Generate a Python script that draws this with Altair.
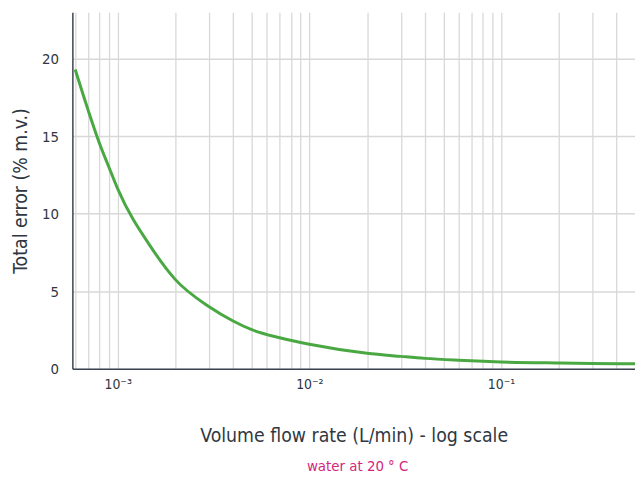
import altair as alt
import pandas as pd

# Data
flow_rate = [0.0006, 0.0007, 0.0008, 0.0009, 0.001, 0.0015, 0.002, 0.003, 0.004,
             0.005, 0.007, 0.01, 0.02, 0.03, 0.04, 0.06, 0.1, 0.2, 0.3, 0.5]
total_error = [19.3, 16.7, 14.6, 13.0, 11.6, 7.8, 5.75, 4.0, 3.08, 2.52, 2.0,
               1.58, 1.0, 0.8, 0.67, 0.55, 0.44, 0.37, 0.34, 0.32]

x_grid_values = [0.0006, 0.0007, 0.0008, 0.0009,
                 0.001, 0.002, 0.003, 0.004, 0.005, 0.006, 0.007, 0.008, 0.009,
                 0.01, 0.02, 0.03, 0.04, 0.05, 0.06, 0.07, 0.08, 0.09,
                 0.1, 0.2, 0.3, 0.4]
y_tick_values = [0, 5, 10, 15, 20]
note_text = ["water at 20 ° C"]

FONT = "DejaVu Sans Condensed, Liberation Sans Narrow, Roboto, sans-serif"
TXT = "#2f3742"

df = pd.DataFrame({"flow": flow_rate, "err": total_error})

x_scale = alt.Scale(type="log", domain=[0.00058, 0.5], nice=False)
y_scale = alt.Scale(domain=[0, 23], nice=False, zero=True)

line = alt.Chart(df).mark_line(color="#4aa843", strokeWidth=3, interpolate="monotone").encode(
    x=alt.X("flow:Q", scale=x_scale,
            axis=alt.Axis(values=x_grid_values, grid=True, ticks=False,
                          labelExpr="datum.value == 0.001 ? '10⁻³' : datum.value == 0.01 ? '10⁻²' : datum.value == 0.1 ? '10⁻¹' : ''",
                          labelPadding=9, labelFontSize=14, labelColor=TXT, labelFont=FONT,
                          title="Volume flow rate (L/min) - log scale",
                          titleFontSize=19.5, titleFont=FONT, titleColor=TXT,
                          titleFontWeight="normal", titlePadding=35)),
    y=alt.Y("err:Q", scale=y_scale,
            axis=alt.Axis(values=y_tick_values, grid=True, ticks=False,
                          labelPadding=14, labelFontSize=15, labelColor=TXT, labelFont=FONT,
                          title="Total error (% m.v.)",
                          titleFontSize=19.5, titleFont=FONT, titleColor=TXT,
                          titleFontWeight="normal", titlePadding=11)),
)

note = alt.Chart(pd.DataFrame({"t": note_text})).mark_text(
    color="#d4267e", fontSize=15, font=FONT, align="center", baseline="alphabetic"
).encode(
    text="t:N",
    x=alt.value(288),
    y=alt.value(463),
)

chart = alt.layer(line, note).properties(
    width=568, height=360,
    autosize=alt.AutoSizeParams(type="none"),
    padding={"left": 65, "top": 2, "right": 0, "bottom": 104},
).configure_view(stroke=None).configure_axis(
    domainColor="#3b4350", domainWidth=1.5, gridColor="#d8d8d8", gridWidth=1.3,
)

chart.save("out.html", embed_options={"renderer": "svg", "actions": False})
